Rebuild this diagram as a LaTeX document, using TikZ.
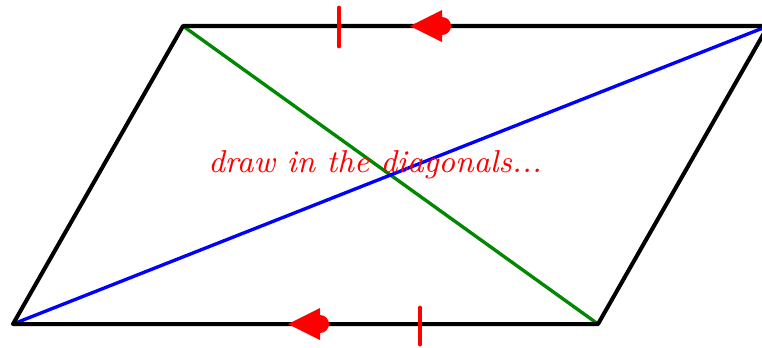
\documentclass[tikz,border=0pt]{standalone}
\usepackage{xcolor}
\usetikzlibrary{positioning}
\definecolor{edgeblack}{HTML}{000000}
\definecolor{diagblue}{HTML}{0000FF}
\definecolor{diaggreen}{HTML}{008800}
\definecolor{markred}{HTML}{FF0000}
\tikzset{
  side/.style={draw=edgeblack, line width=1.15pt, line join=round},
  diagonal/.style={line width=0.95pt},
  tick/.style={draw=markred, line width=1.4pt, line cap=round},
  note/.style={text=markred, font=\fontsize{9}{11}\selectfont\itshape, inner sep=0pt},
  halfarrow/.pic={\fill[markred] (0,0) -- (32,16) -- (32,-16) -- cycle;
                  \fill[markred] (32,0) circle (9);}
}

\begin{document}
\begin{tikzpicture}[x=0.01cm, y=-0.01cm]
  \useasboundingbox (0,0) rectangle (762,347);
  \clip (0,0) rectangle (762,347);

  \coordinate (A) at (13,324);
  \coordinate (B) at (598,324);
  \coordinate (C) at (768,26);
  \coordinate (D) at (183,26);

  % diagonals first, sides on top
  \draw[diagonal, diaggreen] (D) -- (B);
  \draw[diagonal, diagblue] (A) -- (C);
  \draw[side] (A) -- (B) -- (C) -- (D) -- cycle;

  % equal and parallel marks
  \draw[tick] (339,8) -- (339,46);
  \draw[tick] (420,308) -- (420,344);
  \pic at (410,26) {halfarrow};
  \pic at (288,324) {halfarrow};

  \node[note] (label) at (375,165) {draw in the diagonals...};
\end{tikzpicture}
\end{document}
